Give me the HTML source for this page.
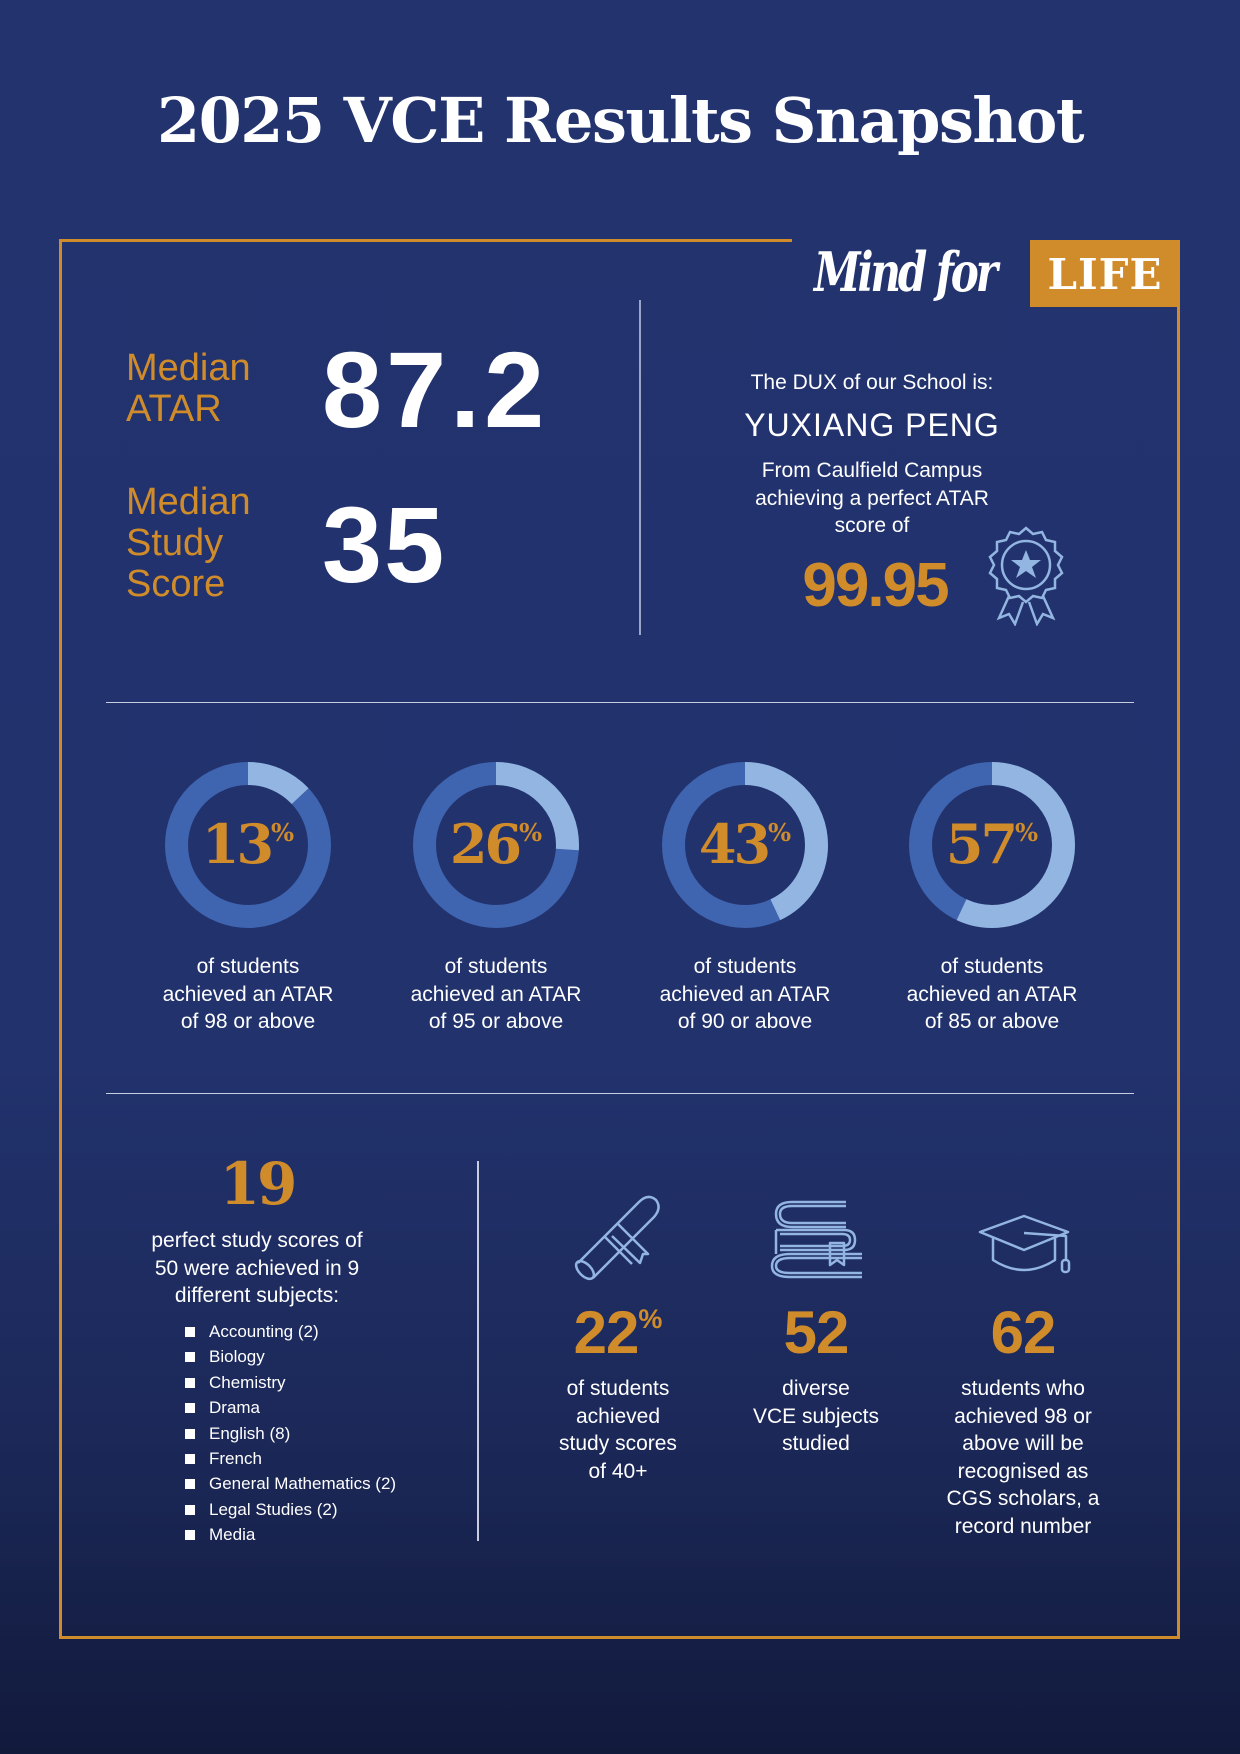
<!DOCTYPE html>
<html><head><meta charset="utf-8">
<style>
*{margin:0;padding:0;box-sizing:border-box}
html,body{width:1240px;height:1754px;overflow:hidden}
body{position:relative;
background:linear-gradient(180deg,#22336e 0%,#22326d 60%,#1b2858 82%,#121a3c 100%);
font-family:"Liberation Sans","DejaVu Sans",sans-serif;color:#fff}
.a{position:absolute}
.c{text-align:center}
.gold{color:#d08c2a}
.slab{font-family:"DejaVu Serif","Liberation Serif",serif;font-weight:bold}
.t{font-size:21px;line-height:27.5px}
.num{font-family:"Liberation Sans","DejaVu Sans",sans-serif;font-weight:bold;letter-spacing:-1px}
sup{font-size:45%;vertical-align:top;position:relative;top:6px;letter-spacing:0}
li{list-style:none;font-size:17px;line-height:25.4px;padding-left:24px;position:relative}
li:before{content:"";position:absolute;left:0;top:8px;width:10px;height:10px;background:#fff}
</style></head><body>
<div class="a c slab" style="left:0;width:1240px;top:84px;font-size:62px;letter-spacing:-1.5px">2025 VCE Results Snapshot</div>

<div class="a" style="left:59px;top:239px;width:733px;height:3px;background:#d08c2a"></div>
<div class="a" style="left:59px;top:239px;width:3px;height:1400px;background:#d08c2a"></div>
<div class="a" style="left:1177px;top:300px;width:3px;height:1339px;background:#d08c2a"></div>
<div class="a" style="left:59px;top:1636px;width:1121px;height:3px;background:#d08c2a"></div>
<div class="a" style="left:1030px;top:240px;width:150px;height:67px;background:#d08c2a"></div>
<div class="a slab" style="left:1030px;top:250px;width:150px;text-align:center;font-size:42px;letter-spacing:1px">LIFE</div>
<div class="a" style="left:814px;top:240px;font-family:'DejaVu Serif',serif;font-style:italic;font-weight:bold;font-size:54px;letter-spacing:-4px;transform:scaleX(0.78);transform-origin:left">Mind for</div>

<div class="a" style="left:639px;top:300px;width:1.5px;height:335px;background:#9aa6c8"></div>
<div class="a gold" style="left:126px;top:348px;font-size:38px;line-height:41px">Median<br>ATAR</div>
<div class="a num" style="left:322px;top:335px;font-size:108px;line-height:110px;letter-spacing:4px">87.2</div>
<div class="a gold" style="left:126px;top:482px;font-size:38px;line-height:41px">Median<br>Study<br>Score</div>
<div class="a num" style="left:322px;top:490px;font-size:108px;line-height:110px;letter-spacing:2px">35</div>

<div class="a c t" style="left:672px;width:400px;top:369px">The DUX of our School is:</div>
<div class="a c" style="left:672px;width:400px;top:407px;font-size:32px;letter-spacing:1px">YUXIANG PENG</div>
<div class="a c t" style="left:672px;width:400px;top:457px">From Caulfield Campus<br>achieving a perfect ATAR<br>score of</div>
<div class="a c num gold" style="left:775px;width:200px;top:550px;font-size:62px;letter-spacing:-2px">99.95</div>
<svg class="a" style="left:985px;top:526px" width="82" height="100" viewBox="0 0 82 100" fill="none" stroke="#93b5e1" stroke-width="2.5">
<path d="M41 2 L48 8 L57 6 L61 14 L70 16 L70 25 L77 31 L73 39 L77 47 L70 53 L70 62 L61 64 L57 72 L48 70 L41 76 L34 70 L25 72 L21 64 L12 62 L12 53 L5 47 L9 39 L5 31 L12 25 L12 16 L21 14 L25 6 L34 8 Z"/>
<circle cx="41" cy="39" r="24"/>
<path d="M41 24 L45 34 L56 34 L47 41 L51 52 L41 45 L31 52 L35 41 L26 34 L37 34 Z" fill="#93b5e1" stroke="none"/>
<path d="M24 70 L14 92 L24 88 L30 98 L38 76 M58 70 L68 92 L58 88 L52 98 L44 76"/>
</svg>

<div class="a" style="left:106px;top:702px;width:1028px;height:1px;background:#c8cde0"></div>
<div class="a" style="left:106px;top:1093px;width:1028px;height:1px;background:#c8cde0"></div>

<svg class="a" style="left:0;top:0" width="1240" height="1000">
<g fill="none" stroke-width="23">
<circle cx="248" cy="845" r="71.5" stroke="#3f64b0"/>
<circle cx="248" cy="845" r="71.5" stroke="#93b5e1" stroke-dasharray="58.4 500" transform="rotate(-90 248 845)"/>
<circle cx="496" cy="845" r="71.5" stroke="#3f64b0"/>
<circle cx="496" cy="845" r="71.5" stroke="#93b5e1" stroke-dasharray="116.8 500" transform="rotate(-90 496 845)"/>
<circle cx="745" cy="845" r="71.5" stroke="#3f64b0"/>
<circle cx="745" cy="845" r="71.5" stroke="#93b5e1" stroke-dasharray="193.2 500" transform="rotate(-90 745 845)"/>
<circle cx="992" cy="845" r="71.5" stroke="#3f64b0"/>
<circle cx="992" cy="845" r="71.5" stroke="#93b5e1" stroke-dasharray="256 500" transform="rotate(-90 992 845)"/>
</g></svg>
<div class="a c slab gold" style="left:148px;width:200px;top:812px;font-size:54px;letter-spacing:-3px">13<sup>%</sup></div>
<div class="a c slab gold" style="left:396px;width:200px;top:812px;font-size:54px;letter-spacing:-3px">26<sup>%</sup></div>
<div class="a c slab gold" style="left:645px;width:200px;top:812px;font-size:54px;letter-spacing:-3px">43<sup>%</sup></div>
<div class="a c slab gold" style="left:892px;width:200px;top:812px;font-size:54px;letter-spacing:-3px">57<sup>%</sup></div>
<div class="a c t" style="left:128px;width:240px;top:953px">of students<br>achieved an ATAR<br>of 98 or above</div>
<div class="a c t" style="left:376px;width:240px;top:953px">of students<br>achieved an ATAR<br>of 95 or above</div>
<div class="a c t" style="left:625px;width:240px;top:953px">of students<br>achieved an ATAR<br>of 90 or above</div>
<div class="a c t" style="left:872px;width:240px;top:953px">of students<br>achieved an ATAR<br>of 85 or above</div>

<div class="a c slab gold" style="left:157px;width:200px;top:1150px;font-size:58px;letter-spacing:-3px">19</div>
<div class="a c t" style="left:117px;width:280px;top:1227px">perfect study scores of<br>50 were achieved in 9<br>different subjects:</div>
<ul class="a" style="left:185px;top:1319px">
<li>Accounting (2)</li><li>Biology</li><li>Chemistry</li><li>Drama</li><li>English (8)</li><li>French</li><li>General Mathematics (2)</li><li>Legal Studies (2)</li><li>Media</li>
</ul>
<div class="a" style="left:477px;top:1161px;width:1.5px;height:380px;background:#c8cde0"></div>

<svg class="a" style="left:0;top:1180px" width="1240" height="110" fill="none" stroke="#93b5e1" stroke-width="2.5" stroke-linejoin="round">
<g>
<path d="M578 83 L639 22 Q648 13 656 20 Q662 28 654 37 L593 98"/>
<ellipse cx="585" cy="90" rx="6" ry="11" transform="rotate(-45 585 90)"/>
<path d="M617 43 L648 74 L643 74 L640 83 L612 56 M604 56 L632 84"/>
</g>
<g>
<path d="M846 26 L792 26 Q780 26 780 34 Q780 43 792 43 L846 43 M846 22 L792 22 Q776 22 776 34 Q776 47 792 47 L846 47"/>
<path d="M776 50 L844 50 Q855 50 855 60 Q855 70 844 70 L780 70 M780 54 L842 54 Q850 54 850 60 Q850 66 842 66 L780 66 M776 50 L776 74"/>
<path d="M862 74 L790 74 Q772 74 772 86 Q772 97 790 97 L862 97 M862 78 L790 78 Q776 78 776 86 Q776 93 790 93 L862 93"/>
<path d="M830 63 L844 63 L844 85 L837 80 L830 85 Z"/>
</g>
<g>
<path d="M1024 36 L1068 52 L1024 70 L980 52 Z"/>
<path d="M993 58 L993 80 Q1024 100 1055 80 L1055 58"/>
<path d="M1024 53 L1066 56 L1066 80"/>
<rect x="1062" y="80" width="7" height="12" rx="3"/>
</g>
</svg>

<div class="a c num gold" style="left:518px;width:200px;top:1298px;font-size:60px">22<sup>%</sup></div>
<div class="a c num gold" style="left:716px;width:200px;top:1298px;font-size:60px">52</div>
<div class="a c num gold" style="left:923px;width:200px;top:1298px;font-size:60px">62</div>
<div class="a c t" style="left:518px;width:200px;top:1375px">of students<br>achieved<br>study scores<br>of 40+</div>
<div class="a c t" style="left:716px;width:200px;top:1375px">diverse<br>VCE subjects<br>studied</div>
<div class="a c t" style="left:923px;width:200px;top:1375px">students who<br>achieved 98 or<br>above will be<br>recognised as<br>CGS scholars, a<br>record number</div>
</body></html>
